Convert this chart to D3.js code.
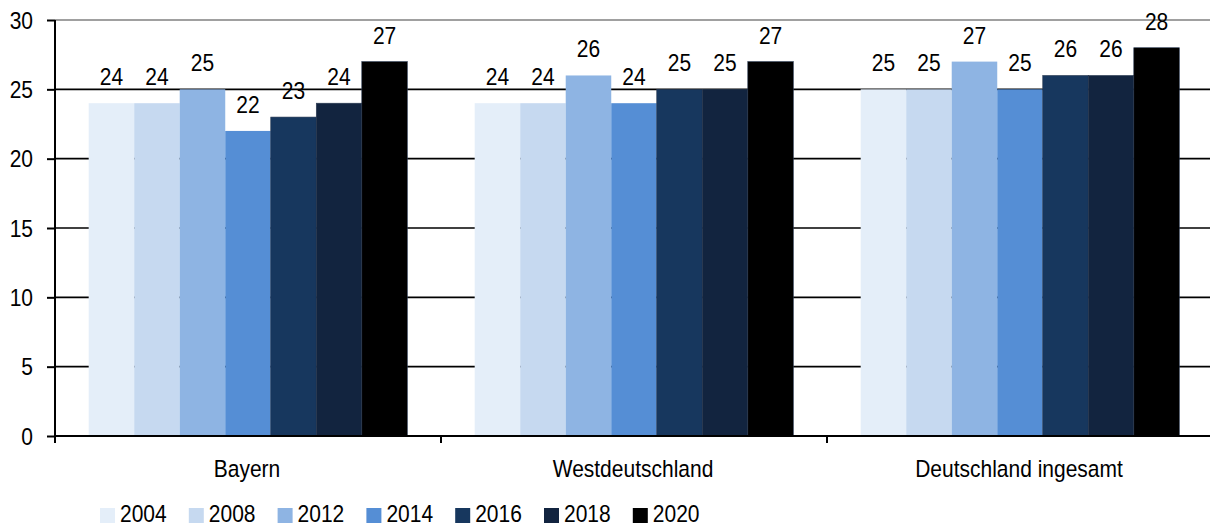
<!DOCTYPE html>
<html><head><meta charset="utf-8">
<script src="https://cdn.jsdelivr.net/npm/d3@7"></script>
<style>
html,body{margin:0;padding:0;background:#fff;}
text{font-family:"Liberation Sans",Arial,sans-serif;}
</style></head>
<body><svg id="c" width="1210" height="529"></svg>
<script>
const categories = ["Bayern", "Westdeutschland", "Deutschland ingesamt"];
const years = ["2004", "2008", "2012", "2014", "2016", "2018", "2020"];
const v2004 = [24, 24, 25];
const v2008 = [24, 24, 25];
const v2012 = [25, 26, 27];
const v2014 = [22, 24, 25];
const v2016 = [23, 25, 26];
const v2018 = [24, 25, 26];
const v2020 = [27, 27, 28];
const seriesValues = [v2004, v2008, v2012, v2014, v2016, v2018, v2020];
const yTicks = [0, 5, 10, 15, 20, 25, 30];
const colors = ["#e4eef9", "#c6d9f0", "#8eb4e3", "#558ed5", "#17375e", "#12243f", "#000000"];

(function(){
const svg = d3.select("#c");
const mL = 55, mR = 1213, mT = 20, mB = 436;
const FS = 21, SY = 1.18;
function label(parent, x, y, txt, anchor) {
  parent.append("text")
    .attr("transform", `translate(${x},${y}) scale(1,${SY})`)
    .attr("text-anchor", anchor || "start")
    .attr("font-size", FS).attr("fill", "#000").text(txt);
}
const x0 = d3.scaleBand().domain(categories).range([mL, mR]).paddingInner(0).paddingOuter(0);
const x1 = d3.scaleBand().domain(years).range([0, x0.bandwidth()]).paddingInner(0).paddingOuter(0.74);
const y = d3.scaleLinear().domain([0, 30]).range([mB, mT]);

// gridlines
svg.append("g").selectAll("line").data(yTicks.filter(t => t > 0 && t < 30)).join("line")
  .attr("x1", mL).attr("x2", 1210).attr("y1", d => y(d)).attr("y2", d => y(d))
  .attr("stroke", "#000").attr("stroke-width", 1.6);
svg.append("line").attr("x1", mL).attr("x2", 1210).attr("y1", y(30)).attr("y2", y(30))
  .attr("stroke", "#808080").attr("stroke-width", 1.6);

// bars
const g = svg.append("g");
categories.forEach((c, ci) => {
  years.forEach((yr, si) => {
    const val = seriesValues[si][ci];
    g.append("rect")
      .attr("x", x0(c) + x1(yr)).attr("y", y(val))
      .attr("width", x1.bandwidth()).attr("height", y(0) - y(val))
      .attr("fill", colors[si])
      .attr("stroke", si >= 4 ? "#2a3a52" : "none").attr("stroke-width", 0.6);
  });
});
// value labels
const vl = svg.append("g");
categories.forEach((c, ci) => {
  years.forEach((yr, si) => {
    const val = seriesValues[si][ci];
    label(vl, x0(c) + x1(yr) + x1.bandwidth() / 2, y(val) - 18, val, "middle");
  });
});

// y axis
const yAxis = d3.axisLeft(y).tickValues(yTicks).tickSize(8).tickFormat("");
const ya = svg.append("g").attr("transform", `translate(${mL},0)`).call(yAxis);
ya.select(".domain").attr("stroke", "#000").attr("stroke-width", 2).attr("d", `M0,${mT}V${mB + 7}`);
ya.selectAll(".tick line").attr("stroke", "#000").attr("stroke-width", 2);
const yl = svg.append("g");
yTicks.forEach(t => label(yl, 33, y(t) + 8.8, t, "end"));

// x axis
svg.append("line").attr("x1", mL).attr("x2", 1210).attr("y1", mB).attr("y2", mB)
  .attr("stroke", "#000").attr("stroke-width", 2);
svg.append("g").selectAll("line").data(categories.slice(1)).join("line")
  .attr("x1", d => x0(d)).attr("x2", d => x0(d)).attr("y1", mB).attr("y2", mB + 7)
  .attr("stroke", "#000").attr("stroke-width", 2);
const xl = svg.append("g");
categories.forEach(c => label(xl, x0(c) + x0.bandwidth() / 2 - 1, 477, c, "middle"));

// legend
const lg = svg.append("g");
years.forEach((yr, i) => {
  const lx = 100 + i * 88.8;
  lg.append("rect").attr("x", lx).attr("y", 508).attr("width", 15).attr("height", 15).attr("fill", colors[i]);
  label(lg, lx + 20, 522, yr, "start");
});
})();
</script></body></html>
